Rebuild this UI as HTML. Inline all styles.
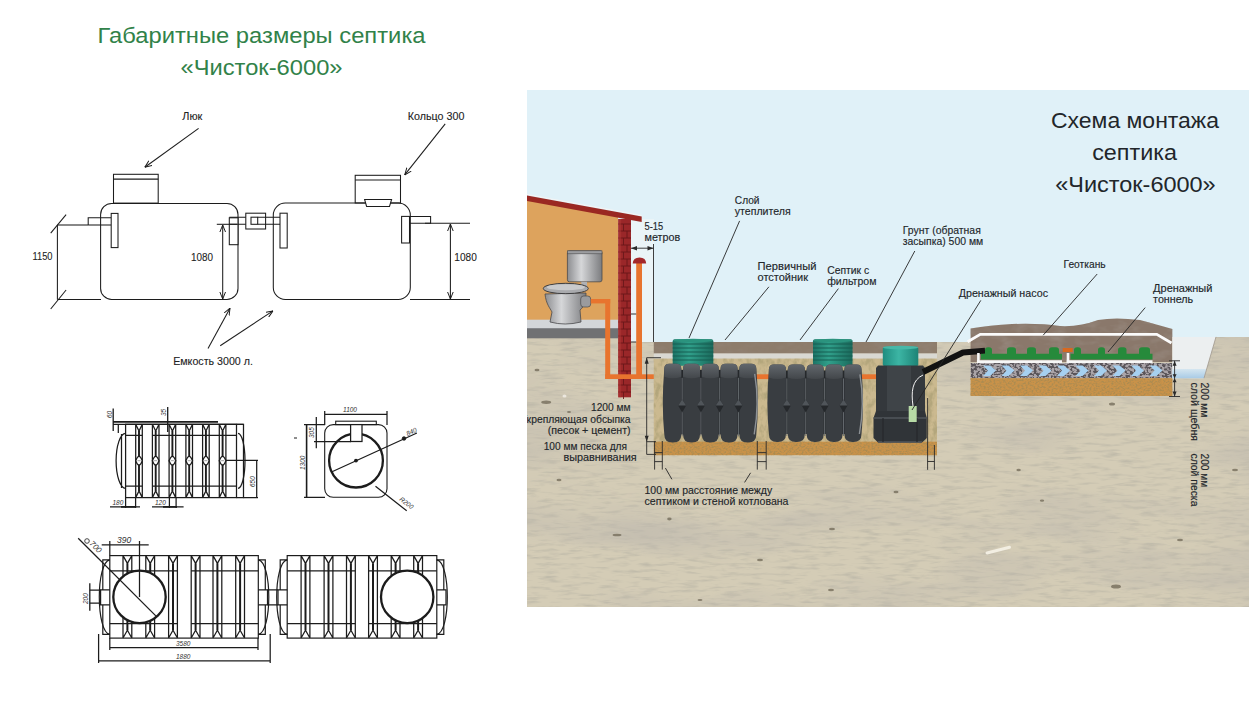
<!DOCTYPE html>
<html><head><meta charset="utf-8">
<style>
html,body{margin:0;padding:0;background:#fff;}
body{width:1250px;height:710px;overflow:hidden;position:relative;}
svg{position:absolute;left:0;top:0;display:block;}
text{font-family:"Liberation Sans",sans-serif;}
</style></head><body>
<svg width="1250" height="710" viewBox="0 0 1250 710">
<defs>
<marker id="ah" viewBox="0 0 10 10" refX="10" refY="5" markerWidth="7" markerHeight="7" orient="auto-start-reverse" markerUnits="userSpaceOnUse"><path d="M0,1 L10,5 L0,9" fill="none" stroke="#1a1a1a" stroke-width="1.4"/></marker>
</defs>
<rect width="1250" height="710" fill="#fff"/>
<text x="97.5" y="43" font-size="22.5" fill="#318249" textLength="328" lengthAdjust="spacingAndGlyphs">Габаритные размеры септика</text>
<text x="180.5" y="75" font-size="22.5" fill="#318249" textLength="162" lengthAdjust="spacingAndGlyphs">«Чисток-6000»</text>
<g fill="none" stroke="#1c1c1c" stroke-width="1.05">
<!-- tank 1 -->
<rect x="100.6" y="203.4" width="137.4" height="96" rx="11"/>
<rect x="113.5" y="174.3" width="44.7" height="28.8"/>
<line x1="113.5" y1="179.1" x2="158.2" y2="179.1"/>
<path d="M88.2,225 V217.8 H111.2"/>
<line x1="88.2" y1="225" x2="111.2" y2="225"/>
<rect x="111.2" y="213.4" width="6.8" height="34.2" fill="#fff"/>
<!-- dim 1150 -->
<line x1="57.4" y1="225" x2="57.4" y2="299.4"/>
<line x1="57.4" y1="225" x2="88.2" y2="225"/>
<line x1="57.4" y1="299.4" x2="101" y2="299.4"/>
<line x1="50.7" y1="233.2" x2="66.1" y2="214.6"/>
<line x1="50.7" y1="309" x2="66.1" y2="290"/>
<!-- tank1 outlet + coupling -->
<rect x="229.3" y="217.8" width="8.7" height="26.9" fill="#fff"/>
<path d="M229.3,217.2 H251 M229.3,224.3 H251"/>
<rect x="245.8" y="213.2" width="19.8" height="15.8" fill="#fff"/>
<rect x="251" y="217.2" width="6.7" height="7.1"/>
<path d="M257.7,217.2 H286.7 M257.7,224.3 H286.7"/>
<rect x="280" y="213.2" width="7.2" height="34.8" fill="#fff"/>
<!-- dim 1080 left -->
<line x1="216.8" y1="224.3" x2="237" y2="224.3"/>
<line x1="222.7" y1="225" x2="222.7" y2="299" marker-start="url(#ah)" marker-end="url(#ah)"/>
<!-- tank 2 -->
<rect x="273.3" y="203" width="137" height="96.5" rx="12"/>
<rect x="355.2" y="175.3" width="45.3" height="27.7"/>
<line x1="355.2" y1="180" x2="400.5" y2="180"/>
<path d="M364.6,199.4 H391.6 L389.5,206.5 H366.6 Z" fill="#fff"/>
<rect x="401.6" y="216.4" width="7.9" height="26.6" fill="#fff"/>
<path d="M409.5,216.4 H430.6 V223.2 H409.5"/>
<!-- dim 1080 right -->
<line x1="425" y1="223.2" x2="470" y2="223.2"/>
<line x1="410" y1="299.5" x2="470" y2="299.5"/>
<line x1="450.4" y1="224" x2="450.4" y2="299" marker-start="url(#ah)" marker-end="url(#ah)"/>
<!-- arrows -->
<line x1="198.6" y1="128.4" x2="144.8" y2="167.2" marker-end="url(#ah)"/>
<line x1="445.2" y1="123.9" x2="404.7" y2="174.9" marker-end="url(#ah)"/>
<line x1="208" y1="348.4" x2="230" y2="308.2" marker-end="url(#ah)"/>
<line x1="220.2" y1="345.7" x2="273" y2="310.9" marker-end="url(#ah)"/>
</g>
<g fill="#222" stroke="#222" stroke-width="0.1" font-size="10">
<text x="182.3" y="120.2" textLength="20" lengthAdjust="spacingAndGlyphs">Люк</text>
<text x="407.8" y="120.2" textLength="56.6" lengthAdjust="spacingAndGlyphs">Кольцо 300</text>
<text x="173.2" y="364.8" textLength="79.7" lengthAdjust="spacingAndGlyphs">Емкость 3000 л.</text>
<text x="32.5" y="260" font-size="11.5" textLength="20" lengthAdjust="spacingAndGlyphs">1150</text>
<text x="190.9" y="260.5" font-size="11.5" textLength="22" lengthAdjust="spacingAndGlyphs">1080</text>
<text x="454.3" y="260.5" font-size="11.5" textLength="22.5" lengthAdjust="spacingAndGlyphs">1080</text>
</g>

<g fill="none" stroke="#1c1c1c" stroke-width="1.25">
<path d="M113,421.9 H218" stroke-width="1.8"/>
<path d="M113,424.3 H243.5"/>
<rect x="125.6" y="424.3" width="110.9" height="73.3"/>
<path d="M118.3,424.3 V433 M236.5,424.3 H243.5 V497.6 H236.5"/>
<path d="M125.6,433.3 A9.5 27.5 0 0 0 125.6,488.3 M121.5,434 V488"/>
<path d="M238,433.3 A7 27.5 0 0 1 238,488.3"/>
<path d="M125.6,435.3 H142.3 M152.5,435.3 H236.5 M125.6,486 H142.3 M152.5,486 H236.5"/>
<path d="M135.7,424.3 V497.6 M142.3,424.3 V497.6 M135.7,424.3 L139.0,431 L142.3,424.3 M135.7,497.6 L139.0,491 L142.3,497.6"/>
<path d="M139.0,431 V491" stroke-width="1.9"/>
<path d="M135.7,460.7 Q139.0,452 142.3,460.7 Q139.0,469.4 135.7,460.7 Z" fill="#fff" stroke-width="1.4"/>
<path d="M137.5,460.7 H140.5" stroke="#888" stroke-width="0.8"/>
<path d="M152.4,424.3 V497.6 M159.0,424.3 V497.6 M152.4,424.3 L155.7,431 L159.0,424.3 M152.4,497.6 L155.7,491 L159.0,497.6"/>
<path d="M155.7,431 V491" stroke-width="1.9"/>
<path d="M152.4,460.7 Q155.7,452 159.0,460.7 Q155.7,469.4 152.4,460.7 Z" fill="#fff" stroke-width="1.4"/>
<path d="M154.2,460.7 H157.2" stroke="#888" stroke-width="0.8"/>
<path d="M169.1,424.3 V497.6 M175.7,424.3 V497.6 M169.1,424.3 L172.4,431 L175.7,424.3 M169.1,497.6 L172.4,491 L175.7,497.6"/>
<path d="M172.4,431 V491" stroke-width="1.9"/>
<path d="M169.1,460.7 Q172.4,452 175.7,460.7 Q172.4,469.4 169.1,460.7 Z" fill="#fff" stroke-width="1.4"/>
<path d="M170.9,460.7 H173.9" stroke="#888" stroke-width="0.8"/>
<path d="M185.9,424.3 V497.6 M192.5,424.3 V497.6 M185.9,424.3 L189.2,431 L192.5,424.3 M185.9,497.6 L189.2,491 L192.5,497.6"/>
<path d="M189.2,431 V491" stroke-width="1.9"/>
<path d="M185.9,460.7 Q189.2,452 192.5,460.7 Q189.2,469.4 185.9,460.7 Z" fill="#fff" stroke-width="1.4"/>
<path d="M187.7,460.7 H190.7" stroke="#888" stroke-width="0.8"/>
<path d="M202.6,424.3 V497.6 M209.2,424.3 V497.6 M202.6,424.3 L205.9,431 L209.2,424.3 M202.6,497.6 L205.9,491 L209.2,497.6"/>
<path d="M205.9,431 V491" stroke-width="1.9"/>
<path d="M202.6,460.7 Q205.9,452 209.2,460.7 Q205.9,469.4 202.6,460.7 Z" fill="#fff" stroke-width="1.4"/>
<path d="M204.4,460.7 H207.4" stroke="#888" stroke-width="0.8"/>
<path d="M219.3,424.3 V497.6 M225.9,424.3 V497.6 M219.3,424.3 L222.6,431 L225.9,424.3 M219.3,497.6 L222.6,491 L225.9,497.6"/>
<path d="M222.6,431 V491" stroke-width="1.9"/>
<path d="M219.3,460.7 Q222.6,452 225.9,460.7 Q222.6,469.4 219.3,460.7 Z" fill="#fff" stroke-width="1.4"/>
<path d="M221.1,460.7 H224.1" stroke="#888" stroke-width="0.8"/>
<path d="M113.2,408.5 V431 M167.7,407 V432" stroke-width="1.3"/>
<path d="M226,460.4 H258 M243.5,497.6 H258 M256.7,460.4 V497.6"/>
<path d="M110,506.9 H140 M125.6,497.6 V508 M135.6,497.6 V508 M152,506.9 H183.6 M169.4,497.6 V508 M176.1,497.6 V508"/>
<path d="M121,506.9 H135 M163,506.9 H177" stroke-width="1.8"/>
<rect x="324.7" y="424.6" width="62.3" height="72.7" rx="8.5" stroke-width="1.1"/>
<rect x="335.7" y="421.2" width="40.6" height="3.4" stroke-width="1.1"/>
<circle cx="356" cy="460.6" r="26.9" stroke-width="2.3"/>
<rect x="350.6" y="424.6" width="11.4" height="16.9" fill="#fff"/>
<path d="M324.7,414.4 H387 M324.7,411 V425 M387,411 V425"/>
<path d="M306.6,424.6 V497.3" stroke-width="1.6"/>
<path d="M304,424.6 H325 M304,497.3 H325 M316.3,417 V448.3 M314,441.5 H351"/>
<path d="M331.5,472 L416.9,433 M375.5,486.3 L406.7,510.8"/>
<circle cx="356" cy="460.6" r="1.3" fill="#1c1c1c"/>
<circle cx="404" cy="438.5" r="1.8" fill="#1c1c1c" stroke-width="0.8"/>
<path d="M294,438 H297" stroke-width="1"/>
<rect x="109.8" y="555.6" width="148.5" height="82.5" stroke-width="1.2"/>
<path d="M109.8,570.8 H177.4 M191.2,570.8 H258.3 M109.8,623.5 H177.4 M191.2,623.5 H258.3"/>
<path d="M109.8,559.8 C95.8,562 95.8,632 109.8,634.4" stroke-width="1.2"/>
<path d="M109.8,559.8 H102.8 V589.8 H109.8 M109.8,634.4 H102.8 V604.9 H109.8 M103.8,589.8 H100.6 V604.9 H103.8" stroke-width="1.2"/>
<path d="M258.3,559.8 C272.3,562 272.3,632 258.3,634.4" stroke-width="1.2"/>
<path d="M258.3,559.8 H265.3 V589.8 H258.3 M258.3,634.4 H265.3 V604.9 H258.3 M264.3,589.8 H267.5 V604.9 H264.3" stroke-width="1.2"/>
<path d="M123.0,555.6 V638 M131.8,555.6 V638 M123.0,555.6 L127.4,563.4 L131.8,555.6 M123.0,638 L127.4,630.2 L131.8,638"/>
<path d="M127.4,563.4 V630.2" stroke-width="2"/>
<path d="M145.8,555.6 V638 M154.6,555.6 V638 M145.8,555.6 L150.2,563.4 L154.6,555.6 M145.8,638 L150.2,630.2 L154.6,638"/>
<path d="M150.2,563.4 V630.2" stroke-width="2"/>
<path d="M168.6,555.6 V638 M177.4,555.6 V638 M168.6,555.6 L173.0,563.4 L177.4,555.6 M168.6,638 L173.0,630.2 L177.4,638"/>
<path d="M173.0,563.4 V630.2" stroke-width="2"/>
<path d="M191.2,555.6 V638 M200.0,555.6 V638 M191.2,555.6 L195.6,563.4 L200.0,555.6 M191.2,638 L195.6,630.2 L200.0,638"/>
<path d="M195.6,563.4 V630.2" stroke-width="2"/>
<path d="M213.0,555.6 V638 M221.8,555.6 V638 M213.0,555.6 L217.4,563.4 L221.8,555.6 M213.0,638 L217.4,630.2 L221.8,638"/>
<path d="M217.4,563.4 V630.2" stroke-width="2"/>
<path d="M235.7,555.6 V638 M244.5,555.6 V638 M235.7,555.6 L240.1,563.4 L244.5,555.6 M235.7,638 L240.1,630.2 L244.5,638"/>
<path d="M240.1,563.4 V630.2" stroke-width="2"/>
<circle cx="139.5" cy="596.9" r="26.2" stroke-width="2.3" fill="#fff"/>
<rect x="287.2" y="555.6" width="149.6" height="82.5" stroke-width="1.2"/>
<path d="M287.2,570.8 H355.3 M368.6,570.8 H436.8 M287.2,623.5 H355.3 M368.6,623.5 H436.8"/>
<path d="M287.2,559.8 C273.2,562 273.2,632 287.2,634.4" stroke-width="1.2"/>
<path d="M287.2,559.8 H280.2 V589.8 H287.2 M287.2,634.4 H280.2 V604.9 H287.2 M281.2,589.8 H278.0 V604.9 H281.2" stroke-width="1.2"/>
<path d="M436.8,559.8 C450.8,562 450.8,632 436.8,634.4" stroke-width="1.2"/>
<path d="M436.8,559.8 H443.8 V589.8 H436.8 M436.8,634.4 H443.8 V604.9 H436.8 M442.8,589.8 H446.0 V604.9 H442.8" stroke-width="1.2"/>
<path d="M301.1,555.6 V638 M309.9,555.6 V638 M301.1,555.6 L305.5,563.4 L309.9,555.6 M301.1,638 L305.5,630.2 L309.9,638"/>
<path d="M305.5,563.4 V630.2" stroke-width="2"/>
<path d="M324.1,555.6 V638 M332.9,555.6 V638 M324.1,555.6 L328.5,563.4 L332.9,555.6 M324.1,638 L328.5,630.2 L332.9,638"/>
<path d="M328.5,563.4 V630.2" stroke-width="2"/>
<path d="M346.5,555.6 V638 M355.3,555.6 V638 M346.5,555.6 L350.9,563.4 L355.3,555.6 M346.5,638 L350.9,630.2 L355.3,638"/>
<path d="M350.9,563.4 V630.2" stroke-width="2"/>
<path d="M368.6,555.6 V638 M377.4,555.6 V638 M368.6,555.6 L373.0,563.4 L377.4,555.6 M368.6,638 L373.0,630.2 L377.4,638"/>
<path d="M373.0,563.4 V630.2" stroke-width="2"/>
<path d="M391.2,555.6 V638 M400.0,555.6 V638 M391.2,555.6 L395.6,563.4 L400.0,555.6 M391.2,638 L395.6,630.2 L400.0,638"/>
<path d="M395.6,563.4 V630.2" stroke-width="2"/>
<path d="M413.7,555.6 V638 M422.5,555.6 V638 M413.7,555.6 L418.1,563.4 L422.5,555.6 M413.7,638 L418.1,630.2 L422.5,638"/>
<path d="M418.1,563.4 V630.2" stroke-width="2"/>
<circle cx="407.2" cy="596.9" r="26.2" stroke-width="2.3" fill="#fff"/>
<path d="M89.8,590 H100.6 M89.8,603 H100.6 M267.5,589.8 H278 M267.5,604.9 H278"/>
<path d="M78.2,538.3 L155.8,615.9"/>
<path d="M101.7,544.8 H148.7 M109.8,541 V555.6 M139.5,541 V597"/>
<path d="M89.8,583.2 V610.8" stroke-width="1.3"/>
<path d="M109.8,647.6 H258 M109.8,638 V650 M258,638 V650"/>
<path d="M98.6,660.9 H270.2 M98.6,634 V663 M270.2,634 V663"/>
</g>
<g fill="#333" font-size="6.5" font-style="italic">
<text transform="translate(111.5,418) rotate(-90)">60</text>
<text transform="translate(166,416) rotate(-90)">35</text>
<text transform="translate(254.5,487) rotate(-90)">650</text>
<text x="112.5" y="504.5">180</text>
<text x="155" y="504.5">120</text>
<text x="343" y="412">1100</text>
<text transform="translate(304.5,470) rotate(-90)">1300</text>
<text transform="translate(314,438) rotate(-90)">305</text>
<text transform="translate(407.5,436) rotate(-24)">840</text>
<text transform="translate(399,500) rotate(38)">R200</text>
<text x="117" y="543" font-size="8.5">390</text>
<text transform="translate(89,544) rotate(45)" font-size="8">700</text>
<circle cx="87" cy="541" r="2.3" fill="none" stroke="#333" stroke-width="0.9"/>
<text transform="translate(88,604) rotate(-90)">200</text>
<text x="176" y="645.5">3580</text>
<text x="176" y="658.5">1880</text>
</g>
<defs>
<clipPath id="pclip"><rect x="527" y="90" width="722" height="517"/></clipPath>
<filter id="sandtex" x="0" y="0" width="100%" height="100%">
 <feTurbulence type="fractalNoise" baseFrequency="0.05 0.3" numOctaves="3" seed="3" result="n"/>
 <feColorMatrix in="n" type="matrix" values="0 0 0 0 0.45  0 0 0 0 0.43  0 0 0 0 0.36  0 0 0 -1.5 0.8" result="c"/>
 <feComposite in="c" in2="SourceGraphic" operator="in"/>
</filter>
<filter id="sandtex2" x="0" y="0" width="100%" height="100%">
 <feTurbulence type="fractalNoise" baseFrequency="0.005 0.02" numOctaves="3" seed="9" result="n"/>
 <feColorMatrix in="n" type="matrix" values="0 0 0 0 0.5  0 0 0 0 0.47  0 0 0 0 0.42  0 0 0 1.5 -0.68" result="c"/>
 <feComposite in="c" in2="SourceGraphic" operator="in"/>
</filter>
<filter id="fillTex" x="0" y="0" width="100%" height="100%">
 <feTurbulence type="fractalNoise" baseFrequency="0.18 0.12" numOctaves="3" seed="7" result="n"/>
 <feColorMatrix in="n" type="matrix" values="0 0 0 0 0.45  0 0 0 0 0.38  0 0 0 0 0.2  0 0 0 -3 1.75" result="c"/>
 <feComposite in="c" in2="SourceGraphic" operator="in"/>
</filter>
<filter id="orTex" x="0" y="0" width="100%" height="100%">
 <feTurbulence type="fractalNoise" baseFrequency="0.5 0.6" numOctaves="2" seed="5" result="n"/>
 <feColorMatrix in="n" type="matrix" values="0 0 0 0 0.42  0 0 0 0 0.26  0 0 0 0 0.08  0 0 0 -3.2 1.9" result="c"/>
 <feComposite in="c" in2="SourceGraphic" operator="in"/>
</filter>
<filter id="gravTex" x="0" y="0" width="100%" height="100%">
 <feTurbulence type="fractalNoise" baseFrequency="0.35 0.45" numOctaves="2" seed="11" result="n"/>
 <feColorMatrix in="n" type="matrix" values="0 0 0 0 0.1  0 0 0 0 0.09  0 0 0 0 0.1  0 0 0 -7 3.9" result="c"/>
 <feComposite in="c" in2="SourceGraphic" operator="in"/>
</filter>
<filter id="moundTex" x="0" y="0" width="100%" height="100%">
 <feTurbulence type="fractalNoise" baseFrequency="0.06 0.12" numOctaves="3" seed="21" result="n"/>
 <feColorMatrix in="n" type="matrix" values="0 0 0 0 0.3  0 0 0 0 0.24  0 0 0 0 0.2  0 0 0 -2.2 1.2" result="c"/>
 <feComposite in="c" in2="SourceGraphic" operator="in"/>
</filter>
<filter id="blur1"><feGaussianBlur stdDeviation="0.7"/></filter>
<linearGradient id="greenNeck" x1="0" y1="0" x2="1" y2="0">
 <stop offset="0" stop-color="#1d7466"/><stop offset="0.4" stop-color="#30a08b"/><stop offset="1" stop-color="#1b6a5c"/>
</linearGradient>
<linearGradient id="pumpCap" x1="0" y1="0" x2="1" y2="0">
 <stop offset="0" stop-color="#1f8d80"/><stop offset="0.45" stop-color="#3cb5a4"/><stop offset="1" stop-color="#1d8376"/>
</linearGradient>
<linearGradient id="toiletG" x1="0" y1="0" x2="1" y2="0">
 <stop offset="0" stop-color="#8c8d90"/><stop offset="0.4" stop-color="#d6d7d9"/><stop offset="1" stop-color="#7b7c7f"/>
</linearGradient>
<linearGradient id="segTop" x1="0" y1="0" x2="0" y2="1">
 <stop offset="0" stop-color="#62676c"/><stop offset="1" stop-color="#43474b"/>
</linearGradient>
<linearGradient id="waterG" x1="0" y1="0" x2="0" y2="1">
 <stop offset="0" stop-color="#d5e6f0"/><stop offset="1" stop-color="#a9cbe6"/>
</linearGradient>
</defs>
<g clip-path="url(#pclip)">
<rect x="527" y="90" width="722" height="260" fill="#e0f1f8"/>
<path d="M527,338 H653.8 V342 H1172.3 V337 H1249 V607 H527 Z" fill="#d4ccb6"/>
<path d="M527,338 H653.8 V342 H1172.3 V337 H1249 V607 H527 Z" fill="#000" filter="url(#sandtex)"/>
<path d="M527,338 H653.8 V342 H1172.3 V337 H1249 V607 H527 Z" fill="#000" filter="url(#sandtex2)"/>
<g fill="#6f6756" opacity="0.75" filter="url(#blur1)"><ellipse cx="546.2" cy="402.3" rx="5" ry="1.7"/><ellipse cx="569" cy="412" rx="2" ry="1"/><ellipse cx="537" cy="370" rx="2.5" ry="1.2"/><ellipse cx="559" cy="480" rx="2.5" ry="1.2"/><ellipse cx="669.4" cy="519" rx="2.2" ry="1.4"/><ellipse cx="617" cy="535" rx="4.5" ry="1.3"/><ellipse cx="832" cy="529" rx="3" ry="1.2"/><ellipse cx="831" cy="590" rx="3" ry="1.2"/><ellipse cx="1112" cy="404" rx="3" ry="1.5"/><ellipse cx="1018.6" cy="470" rx="2.2" ry="1.3"/><ellipse cx="896" cy="492" rx="2.5" ry="1.2"/><ellipse cx="1042" cy="500.6" rx="2.2" ry="1.2"/><ellipse cx="1116" cy="586.6" rx="5" ry="2"/><ellipse cx="1235" cy="470" rx="3" ry="1.2"/><ellipse cx="760" cy="560" rx="3" ry="1.2"/><ellipse cx="700" cy="600" rx="2.5" ry="1.0"/><ellipse cx="1180" cy="540" rx="3" ry="1.2"/></g>
<ellipse cx="564.5" cy="395.9" rx="2" ry="1.5" fill="#f2efe8" opacity="0.8"/>
<path d="M987,553 L1009.5,547.3" stroke="#f2eee2" stroke-width="3" stroke-linecap="round"/>
<rect x="631" y="219" width="23" height="123" fill="#eaf4f7"/>
<path d="M527,200 L618,216.5 V320 H527 Z" fill="#dda35d"/>
<rect x="527" y="319.7" width="91.5" height="8.5" fill="#d3d6d9"/>
<rect x="527" y="328.2" width="91.5" height="10.1" fill="#707173"/>
<path d="M527,194.5 L641.7,215.5" stroke="#f4f4f4" stroke-width="1.2"/>
<path d="M527,195.5 L641.7,216.4 V222 L527,201 Z" fill="#9a2822"/>
<rect x="618.2" y="219" width="12.8" height="178.3" fill="#9a2729"/>
<path d="M618.2,224 H631 M623.5,224 V231 M618.2,231 H631 M627,231 V238 M618.2,238 H631 M623.5,238 V245 M618.2,245 H631 M627,245 V252 M618.2,252 H631 M623.5,252 V259 M618.2,259 H631 M627,259 V266 M618.2,266 H631 M623.5,266 V273 M618.2,273 H631 M627,273 V280 M618.2,280 H631 M623.5,280 V287 M618.2,287 H631 M627,287 V294 M618.2,294 H631 M623.5,294 V301 M618.2,301 H631 M627,301 V308 M618.2,308 H631 M623.5,308 V315 M618.2,315 H631 M627,315 V322 M618.2,322 H631 M623.5,322 V329 M618.2,329 H631 M627,329 V336 M618.2,336 H631 M623.5,336 V343 M618.2,343 H631 M627,343 V350 M618.2,350 H631 M623.5,350 V357 M618.2,357 H631 M627,357 V364 M618.2,364 H631 M623.5,364 V371 M618.2,371 H631 M627,371 V378 M618.2,378 H631 M623.5,378 V385 M618.2,385 H631 M627,385 V392 M618.2,392 H631 M623.5,392 V399" stroke="#6a171a" stroke-width="0.9" fill="none"/>
<rect x="618.2" y="219" width="3" height="178.3" fill="#b23a37" opacity="0.5"/>
<rect x="567.4" y="250.8" width="34.6" height="31" rx="2" fill="url(#toiletG)" stroke="#4a4a4c" stroke-width="0.8"/>
<rect x="567.4" y="250.8" width="34.6" height="3" fill="#9c9da0" stroke="#4a4a4c" stroke-width="0.6"/>
<rect x="581.3" y="281.8" width="5.7" height="5" fill="#b0b1b4"/>
<path d="M545,294 C546,304 550,308 552,312 L550,322 Q565,326 581,322 L580,310 C585,306 586,300 586,293 Z" fill="url(#toiletG)" stroke="#4a4a4c" stroke-width="0.8"/>
<ellipse cx="565.8" cy="288.5" rx="22.5" ry="5.2" fill="#a9aaad" stroke="#3e3e40" stroke-width="1"/>
<ellipse cx="565.8" cy="287.2" rx="19" ry="3" fill="#c9cacc"/>
<rect x="580.7" y="296" width="10" height="11" rx="3" fill="#9a9b9e" stroke="#4a4a4c" stroke-width="0.7"/>
<rect x="590.8" y="299" width="19.4" height="4.4" fill="#e8742e"/>
<rect x="605.2" y="299" width="5" height="80" fill="#e8742e"/>
<rect x="636.2" y="263" width="5.8" height="116" fill="#e8742e"/>
<rect x="605.2" y="374.3" width="58" height="4.7" fill="#e8742e"/>
<path d="M632.7,263.5 Q633,257.5 639.5,257.5 Q646,257.5 646.2,263.5 Z" fill="#a3282a"/>
<path d="M631,314 H636.2 M631,342 H636.2" stroke="#333" stroke-width="1"/>
<rect x="653.8" y="342" width="283.2" height="11.5" fill="#8d7c6b"/>
<rect x="653.8" y="342" width="283.2" height="11.5" fill="#000" filter="url(#moundTex)" opacity="0.6"/>
<rect x="653.8" y="353.5" width="283.2" height="5.2" fill="#d9d8d2"/>
<rect x="653.8" y="358.7" width="283.2" height="84" fill="#cbb98f"/>
<rect x="653.8" y="358.7" width="283.2" height="84" fill="#000" filter="url(#fillTex)"/>
<rect x="653.8" y="441.7" width="283.2" height="13.5" fill="#c99249"/>
<rect x="653.8" y="441.7" width="283.2" height="13.5" fill="#000" filter="url(#orTex)"/>
<rect x="754" y="374.3" width="16" height="4.8" fill="#e8742e"/>
<rect x="858" y="374.3" width="20" height="4.8" fill="#e8742e"/>
<rect x="672.7" y="339.3" width="40.6" height="26.5" rx="2" fill="url(#greenNeck)"/>
<path d="M672.7,344 H713.3 M672.7,348 H713.3 M672.7,352 H713.3 M672.7,356 H713.3 M672.7,360 H713.3" stroke="#155a4e" stroke-width="1.1" fill="none" opacity="0.9"/>
<ellipse cx="693.0" cy="340.5" rx="20.3" ry="1.8" fill="#2b937e"/>
<rect x="666.4" y="369.8" width="87.8" height="64.6" fill="#25282b"/>
<path d="M669.3,363.8 H676.26 Q681.26,363.8 681.26,368.8 Q681.26,403.1 681.26,434.4 Q681.26,442.4 673.26,442.4 H672.3 Q664.3,442.4 664.3,434.4 Q661.3,403.1 664.3,368.8 Q664.3,363.8 669.3,363.8 Z" fill="#393d41"/>
<path d="M664.3,376.8 V368.8 Q664.3,363.8 669.3,363.8 H676.26 Q681.26,363.8 681.26,368.8 V376.8 Q672.78,379.8 664.3,376.8 Z" fill="url(#segTop)"/>
<path d="M688.06,363.8 H695.02 Q700.02,363.8 700.02,368.8 Q700.02,403.1 700.02,434.4 Q700.02,442.4 692.02,442.4 H691.06 Q683.06,442.4 683.06,434.4 Q683.06,403.1 683.06,368.8 Q683.06,363.8 688.06,363.8 Z" fill="#393d41"/>
<path d="M683.06,376.8 V368.8 Q683.06,363.8 688.06,363.8 H695.02 Q700.02,363.8 700.02,368.8 V376.8 Q691.54,379.8 683.06,376.8 Z" fill="url(#segTop)"/>
<path d="M706.8199999999999,363.8 H713.78 Q718.78,363.8 718.78,368.8 Q718.78,403.1 718.78,434.4 Q718.78,442.4 710.78,442.4 H709.8199999999999 Q701.8199999999999,442.4 701.8199999999999,434.4 Q701.8199999999999,403.1 701.8199999999999,368.8 Q701.8199999999999,363.8 706.8199999999999,363.8 Z" fill="#393d41"/>
<path d="M701.8199999999999,376.8 V368.8 Q701.8199999999999,363.8 706.8199999999999,363.8 H713.78 Q718.78,363.8 718.78,368.8 V376.8 Q710.3,379.8 701.8199999999999,376.8 Z" fill="url(#segTop)"/>
<path d="M725.5799999999999,363.8 H732.54 Q737.54,363.8 737.54,368.8 Q737.54,403.1 737.54,434.4 Q737.54,442.4 729.54,442.4 H728.5799999999999 Q720.5799999999999,442.4 720.5799999999999,434.4 Q720.5799999999999,403.1 720.5799999999999,368.8 Q720.5799999999999,363.8 725.5799999999999,363.8 Z" fill="#393d41"/>
<path d="M720.5799999999999,376.8 V368.8 Q720.5799999999999,363.8 725.5799999999999,363.8 H732.54 Q737.54,363.8 737.54,368.8 V376.8 Q729.06,379.8 720.5799999999999,376.8 Z" fill="url(#segTop)"/>
<path d="M744.3399999999999,363.8 H751.3 Q756.3,363.8 756.3,368.8 Q759.3,403.1 756.3,434.4 Q756.3,442.4 748.3,442.4 H747.3399999999999 Q739.3399999999999,442.4 739.3399999999999,434.4 Q739.3399999999999,403.1 739.3399999999999,368.8 Q739.3399999999999,363.8 744.3399999999999,363.8 Z" fill="#393d41"/>
<path d="M739.3399999999999,376.8 V368.8 Q739.3399999999999,363.8 744.3399999999999,363.8 H751.3 Q756.3,363.8 756.3,368.8 V376.8 Q747.8199999999999,379.8 739.3399999999999,376.8 Z" fill="url(#segTop)"/>
<path d="M754.6999999999999,373.8 Q759.6999999999999,403.1 754.1999999999999,434.4" stroke="#8c9195" stroke-width="1.4" fill="none"/>
<path d="M682.16,377.8 V436.4" stroke="#6b7075" stroke-width="0.9"/>
<path d="M678.16,405.458 L682.16,399.458 L686.16,405.458 L682.16,412.458 Z" fill="#25282b"/>
<path d="M678.16,405.458 L682.16,399.458 L686.16,405.458 Z" fill="#50555a"/>
<path d="M700.92,377.8 V436.4" stroke="#6b7075" stroke-width="0.9"/>
<path d="M696.92,405.458 L700.92,399.458 L704.92,405.458 L700.92,412.458 Z" fill="#25282b"/>
<path d="M696.92,405.458 L700.92,399.458 L704.92,405.458 Z" fill="#50555a"/>
<path d="M719.68,377.8 V436.4" stroke="#6b7075" stroke-width="0.9"/>
<path d="M715.68,405.458 L719.68,399.458 L723.68,405.458 L719.68,412.458 Z" fill="#25282b"/>
<path d="M715.68,405.458 L719.68,399.458 L723.68,405.458 Z" fill="#50555a"/>
<path d="M738.4399999999999,377.8 V436.4" stroke="#6b7075" stroke-width="0.9"/>
<path d="M734.4399999999999,405.458 L738.4399999999999,399.458 L742.4399999999999,405.458 L738.4399999999999,412.458 Z" fill="#25282b"/>
<path d="M734.4399999999999,405.458 L738.4399999999999,399.458 L742.4399999999999,405.458 Z" fill="#50555a"/>
<rect x="813" y="339.3" width="39.5" height="27.1" rx="2" fill="url(#greenNeck)"/>
<path d="M813,344 H852.5 M813,348 H852.5 M813,352 H852.5 M813,356 H852.5 M813,360 H852.5" stroke="#155a4e" stroke-width="1.1" fill="none" opacity="0.9"/>
<ellipse cx="832.8" cy="340.5" rx="19.8" ry="1.8" fill="#2b937e"/>
<rect x="771" y="370.4" width="88.4" height="63.599999999999994" fill="#25282b"/>
<path d="M773.9,364.4 H780.98 Q785.98,364.4 785.98,369.4 Q785.98,403.2 785.98,434.0 Q785.98,442.0 777.98,442.0 H776.9 Q768.9,442.0 768.9,434.0 Q765.9,403.2 768.9,369.4 Q768.9,364.4 773.9,364.4 Z" fill="#393d41"/>
<path d="M768.9,377.4 V369.4 Q768.9,364.4 773.9,364.4 H780.98 Q785.98,364.4 785.98,369.4 V377.4 Q777.44,380.4 768.9,377.4 Z" fill="url(#segTop)"/>
<path d="M792.78,364.4 H799.86 Q804.86,364.4 804.86,369.4 Q804.86,403.2 804.86,434.0 Q804.86,442.0 796.86,442.0 H795.78 Q787.78,442.0 787.78,434.0 Q787.78,403.2 787.78,369.4 Q787.78,364.4 792.78,364.4 Z" fill="#393d41"/>
<path d="M787.78,377.4 V369.4 Q787.78,364.4 792.78,364.4 H799.86 Q804.86,364.4 804.86,369.4 V377.4 Q796.3199999999999,380.4 787.78,377.4 Z" fill="url(#segTop)"/>
<path d="M811.66,364.4 H818.74 Q823.74,364.4 823.74,369.4 Q823.74,403.2 823.74,434.0 Q823.74,442.0 815.74,442.0 H814.66 Q806.66,442.0 806.66,434.0 Q806.66,403.2 806.66,369.4 Q806.66,364.4 811.66,364.4 Z" fill="#393d41"/>
<path d="M806.66,377.4 V369.4 Q806.66,364.4 811.66,364.4 H818.74 Q823.74,364.4 823.74,369.4 V377.4 Q815.2,380.4 806.66,377.4 Z" fill="url(#segTop)"/>
<path d="M830.54,364.4 H837.62 Q842.62,364.4 842.62,369.4 Q842.62,403.2 842.62,434.0 Q842.62,442.0 834.62,442.0 H833.54 Q825.54,442.0 825.54,434.0 Q825.54,403.2 825.54,369.4 Q825.54,364.4 830.54,364.4 Z" fill="#393d41"/>
<path d="M825.54,377.4 V369.4 Q825.54,364.4 830.54,364.4 H837.62 Q842.62,364.4 842.62,369.4 V377.4 Q834.0799999999999,380.4 825.54,377.4 Z" fill="url(#segTop)"/>
<path d="M849.42,364.4 H856.5 Q861.5,364.4 861.5,369.4 Q864.5,403.2 861.5,434.0 Q861.5,442.0 853.5,442.0 H852.42 Q844.42,442.0 844.42,434.0 Q844.42,403.2 844.42,369.4 Q844.42,364.4 849.42,364.4 Z" fill="#393d41"/>
<path d="M844.42,377.4 V369.4 Q844.42,364.4 849.42,364.4 H856.5 Q861.5,364.4 861.5,369.4 V377.4 Q852.96,380.4 844.42,377.4 Z" fill="url(#segTop)"/>
<path d="M859.9,374.4 Q864.9,403.2 859.4,434.0" stroke="#8c9195" stroke-width="1.4" fill="none"/>
<path d="M786.88,378.4 V436.0" stroke="#6b7075" stroke-width="0.9"/>
<path d="M782.88,405.52799999999996 L786.88,399.52799999999996 L790.88,405.52799999999996 L786.88,412.52799999999996 Z" fill="#25282b"/>
<path d="M782.88,405.52799999999996 L786.88,399.52799999999996 L790.88,405.52799999999996 Z" fill="#50555a"/>
<path d="M805.76,378.4 V436.0" stroke="#6b7075" stroke-width="0.9"/>
<path d="M801.76,405.52799999999996 L805.76,399.52799999999996 L809.76,405.52799999999996 L805.76,412.52799999999996 Z" fill="#25282b"/>
<path d="M801.76,405.52799999999996 L805.76,399.52799999999996 L809.76,405.52799999999996 Z" fill="#50555a"/>
<path d="M824.64,378.4 V436.0" stroke="#6b7075" stroke-width="0.9"/>
<path d="M820.64,405.52799999999996 L824.64,399.52799999999996 L828.64,405.52799999999996 L824.64,412.52799999999996 Z" fill="#25282b"/>
<path d="M820.64,405.52799999999996 L824.64,399.52799999999996 L828.64,405.52799999999996 Z" fill="#50555a"/>
<path d="M843.52,378.4 V436.0" stroke="#6b7075" stroke-width="0.9"/>
<path d="M839.52,405.52799999999996 L843.52,399.52799999999996 L847.52,405.52799999999996 L843.52,412.52799999999996 Z" fill="#25282b"/>
<path d="M839.52,405.52799999999996 L843.52,399.52799999999996 L847.52,405.52799999999996 Z" fill="#50555a"/>
<rect x="882.8" y="346.8" width="35.5" height="19.5" rx="2" fill="url(#pumpCap)"/>
<ellipse cx="900.5" cy="347.6" rx="17.7" ry="1.8" fill="#48b8a8"/>
<path d="M878,365.5 H923 L925,368 V411 H876 V368 Z" fill="#34383c"/>
<path d="M887,366 H911 V411 H887 Z" fill="#3f4448"/>
<path d="M876,411 L873.5,418 V438 L878,442.4 H922 L926.8,438 V418 L925,411 Z" fill="#303438"/>
<path d="M873.5,418 H926.8 M878,442 H922" stroke="#50565b" stroke-width="1.3" fill="none"/>
<path d="M883,418 V442 M917,418 V442" stroke="#26292c" stroke-width="1.2" fill="none"/>
<rect x="908.7" y="406" width="8" height="16" fill="#b7dba6"/>
<path d="M913,406 C911,392 912,380 923,375" stroke="#f4f4f4" stroke-width="1" fill="none"/>
<path d="M654.6,441 V469.6 M662.3,441 V469.6 M654.6,461.6 H662.3 M654.6,452.6 H662.3" stroke="#2a2a2a" stroke-width="0.9" fill="none"/>
<path d="M757.3,441 V469.6 M766.2,441 V469.6 M757.3,461.6 H766.2 M757.3,452.6 H766.2" stroke="#2a2a2a" stroke-width="0.9" fill="none"/>
<path d="M927.6,398 V469.8 M934.4,445 V469.8 M927.6,461.5 H934.4" stroke="#2a2a2a" stroke-width="0.9" fill="none"/>
<path d="M646.7,357.7 V454.4 M646.7,357.7 H661 M646.7,441.7 H656 M646.7,454.4 H656" stroke="#2a2a2a" stroke-width="0.9" fill="none"/>
<path d="M646.7,357.7 l-2,6 h4 z M646.7,441.7 l-2,-6 h4 z" fill="#2a2a2a"/>
<path d="M653.5,244 V342 M631,248.2 H653.5" stroke="#2a2a2a" stroke-width="0.9" fill="none"/>
<path d="M631,248.2 l6,-2.2 v4.4 z M653.5,248.2 l-6,-2.2 v4.4 z" fill="#2a2a2a"/>
<path d="M970.6,362 V328.5 Q990,325 1012,324 Q1040,323 1060,326 Q1080,327 1098,320 Q1115,317 1140,320 L1164.5,326.8 L1172.3,329 V362 Z" fill="#8a786b"/>
<path d="M970.6,362 V328.5 Q990,325 1012,324 Q1040,323 1060,326 Q1080,327 1098,320 Q1115,317 1140,320 L1164.5,326.8 L1172.3,329 V362 Z" fill="#000" filter="url(#moundTex)"/>
<path d="M967.6,341.7 L980.3,334.3 H1156.8 L1171.5,343" stroke="#fbfbfb" stroke-width="2.8" fill="none"/>
<path d="M923,372 L963,352.5 L985,350.8" stroke="#121212" stroke-width="6" fill="none" stroke-linejoin="round"/>
<path d="M980.9,359.4 V353.7 H985 V350 Q985,347.2 988,347.2 H989 Q992,347.2 992,350 V353.7 H1007 V350 Q1007,347.2 1010,347.2 H1013 Q1016,347.2 1016,350 V353.7 H1027 V350 Q1027,347.2 1030,347.2 H1033 Q1036,347.2 1036,350 V353.7 H1049 V350 Q1049,347.2 1052,347.2 H1056 Q1059,347.2 1059,350 V353.7 H1062 V359.4 Z" fill="#268a3b"/>
<path d="M976.9,361.6 H1062 M978.4,361.6 V353" stroke="#f7f7f7" stroke-width="2.6" fill="none"/>
<path d="M1070.5,359.4 V353.7 H1074 V350 Q1074,347.2 1077,347.2 H1078 Q1081,347.2 1081,350 V353.7 H1098 V350 Q1098,347.2 1101,347.2 H1102 Q1105,347.2 1105,350 V353.7 H1118 V350 Q1118,347.2 1121,347.2 H1123.5 Q1126.5,347.2 1126.5,350 V353.7 H1139 V350 Q1139,347.2 1142,347.2 H1147 Q1150,347.2 1150,350 V353.7 H1152.5 V359.4 Z" fill="#268a3b"/>
<path d="M1066.5,361.6 H1152.5 M1068.0,361.6 V353" stroke="#f7f7f7" stroke-width="2.6" fill="none"/>
<rect x="1062.7" y="348" width="10" height="4" fill="#d8681f"/>
<rect x="970.6" y="363" width="201.7" height="15.2" fill="#aaa4a8"/>
<rect x="970.6" y="363" width="201.7" height="15.2" fill="#000" filter="url(#gravTex)"/>
<path d="M983.0,365.5 H990.0 L996.0,370.6 L990.0,376 H983.0 L988.0,370.6 Z M1001.5,365.5 H1008.5 L1014.5,370.6 L1008.5,376 H1001.5 L1006.5,370.6 Z M1020.0,365.5 H1027.0 L1033.0,370.6 L1027.0,376 H1020.0 L1025.0,370.6 Z M1038.5,365.5 H1045.5 L1051.5,370.6 L1045.5,376 H1038.5 L1043.5,370.6 Z M1057.0,365.5 H1064.0 L1070.0,370.6 L1064.0,376 H1057.0 L1062.0,370.6 Z M1075.5,365.5 H1082.5 L1088.5,370.6 L1082.5,376 H1075.5 L1080.5,370.6 Z M1094.0,365.5 H1101.0 L1107.0,370.6 L1101.0,376 H1094.0 L1099.0,370.6 Z M1112.5,365.5 H1119.5 L1125.5,370.6 L1119.5,376 H1112.5 L1117.5,370.6 Z M1131.0,365.5 H1138.0 L1144.0,370.6 L1138.0,376 H1131.0 L1136.0,370.6 Z M1149.5,365.5 H1156.5 L1162.5,370.6 L1156.5,376 H1149.5 L1154.5,370.6 Z" fill="#a6d0f0"/>
<rect x="970.6" y="378.2" width="201.7" height="17.8" fill="#c99249"/>
<rect x="970.6" y="378.2" width="201.7" height="17.8" fill="#000" filter="url(#orTex)"/>
<path d="M1172.3,336.9 H1216 L1204,378.2 H1172.3 Z" fill="#eceff0"/>
<path d="M1172.3,369 H1206.6 L1204,378.2 H1172.3 Z" fill="url(#waterG)"/>
<path d="M1216,336.9 L1204,378.2" stroke="#9e968a" stroke-width="0.8"/>
<path d="M1174.6,360.8 V396.5 M1169,360.8 H1180 M1169,396.5 H1180" stroke="#2a2a2a" stroke-width="0.9" fill="none"/>
<path d="M1174.6,360.8 l-2,5 h4 z M1174.6,396.5 l-2,-5 h4 z M1174.6,378.2 l-2,-4 h4 z M1174.6,378.2 l-2,4 h4 z" fill="#2a2a2a"/>
<path d="M739.6,220.9 L689,338 M768.9,286.8 L725,340 M838.4,288.6 L800,340 M914.8,251 L866,342 M980.8,300.4 L912,410 M1097.2,274 L1043.2,335.2 M1145.2,307.6 L1108,352 M665.4,468 L671.9,479.3 M750.6,472.8 L744.6,482.4" stroke="#262626" stroke-width="0.9" fill="none"/>
</g>
<g fill="#22262a" stroke="#22262a" stroke-width="0.15" clip-path="url(#pclip)">
<text x="1051" y="127.5" font-size="22.5" textLength="168.0" lengthAdjust="spacingAndGlyphs" stroke-width="0">Схема монтажа</text>
<text x="1092.2" y="159.5" font-size="22.5" textLength="84.8" lengthAdjust="spacingAndGlyphs" stroke-width="0">септика</text>
<text x="1055.2" y="191.5" font-size="22.5" textLength="160.5" lengthAdjust="spacingAndGlyphs" stroke-width="0">«Чисток-6000»</text>
<text x="734.8" y="204.2" font-size="11.3" textLength="24.7" lengthAdjust="spacingAndGlyphs">Слой</text>
<text x="734.8" y="215" font-size="11.3" textLength="55.9" lengthAdjust="spacingAndGlyphs">утеплителя</text>
<text x="644.5" y="229.9" font-size="11.3" textLength="18.6" lengthAdjust="spacingAndGlyphs">5-15</text>
<text x="644.5" y="240.6" font-size="11.3" textLength="35.7" lengthAdjust="spacingAndGlyphs">метров</text>
<text x="757.6" y="270.2" font-size="11.3" textLength="58.8" lengthAdjust="spacingAndGlyphs">Первичный</text>
<text x="757.6" y="281" font-size="11.3" textLength="50.4" lengthAdjust="spacingAndGlyphs">отстойник</text>
<text x="827.2" y="273.8" font-size="11.3" textLength="42.0" lengthAdjust="spacingAndGlyphs">Септик с</text>
<text x="827.2" y="284.6" font-size="11.3" textLength="49.2" lengthAdjust="spacingAndGlyphs">фильтром</text>
<text x="902.8" y="234.2" font-size="11.3" textLength="78.0" lengthAdjust="spacingAndGlyphs">Грунт (обратная</text>
<text x="902.8" y="245" font-size="11.3" textLength="80.4" lengthAdjust="spacingAndGlyphs">засыпка) 500 мм</text>
<text x="1063.6" y="268" font-size="11.3" textLength="42.0" lengthAdjust="spacingAndGlyphs">Геоткань</text>
<text x="958.7" y="296.8" font-size="11.3" textLength="89.3" lengthAdjust="spacingAndGlyphs">Дренажный насос</text>
<text x="1153.1" y="292" font-size="11.3" textLength="59.3" lengthAdjust="spacingAndGlyphs">Дренажный</text>
<text x="1153.1" y="302.8" font-size="11.3" textLength="40.1" lengthAdjust="spacingAndGlyphs">тоннель</text>
<text x="591" y="410.9" font-size="11.3" textLength="39.6" lengthAdjust="spacingAndGlyphs">1200 мм</text>
<text x="520.5" y="422.9" font-size="11.3" textLength="110.1" lengthAdjust="spacingAndGlyphs">Укрепляющая обсыпка</text>
<text x="547.8" y="434.4" font-size="11.3" textLength="82.8" lengthAdjust="spacingAndGlyphs">(песок + цемент)</text>
<text x="543.7" y="450" font-size="11.3" textLength="83.3" lengthAdjust="spacingAndGlyphs">100 мм песка для</text>
<text x="563.4" y="461.3" font-size="11.3" textLength="73.2" lengthAdjust="spacingAndGlyphs">выравнивания</text>
<text x="644.5" y="494.4" font-size="11.3" textLength="127.7" lengthAdjust="spacingAndGlyphs">100 мм расстояние между</text>
<text x="644.5" y="505.2" font-size="11.3" textLength="144.0" lengthAdjust="spacingAndGlyphs">септиком и стеной котлована</text>
<text transform="translate(1200.7,382.5) rotate(90)" font-size="11" textLength="34.9" lengthAdjust="spacingAndGlyphs">200 мм</text>
<text transform="translate(1191.3,382.5) rotate(90)" font-size="11" textLength="58.5" lengthAdjust="spacingAndGlyphs">слой щебня</text>
<text transform="translate(1200.7,453.5) rotate(90)" font-size="11" textLength="33.8" lengthAdjust="spacingAndGlyphs">200 мм</text>
<text transform="translate(1191.3,453.5) rotate(90)" font-size="11" textLength="52.9" lengthAdjust="spacingAndGlyphs">слой песка</text>
</g>
</svg>
</body></html>
